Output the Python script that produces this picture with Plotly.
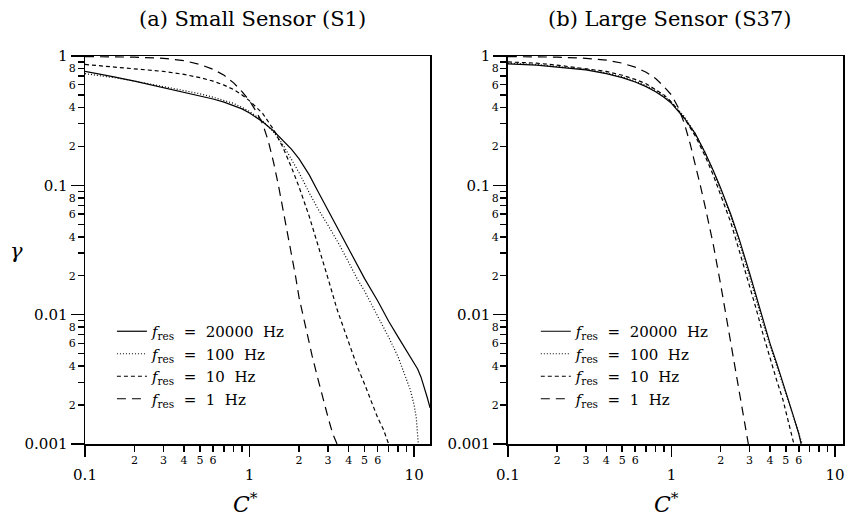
import math
import plotly.graph_objects as go

# ---------------- data ----------------
# Panel (a) Small Sensor (S1)
a_x_20000 = [0.1, 0.12, 0.15, 0.2, 0.25, 0.3, 0.4, 0.5, 0.6, 0.7, 0.8, 0.9, 1.0, 1.2, 1.4, 1.6, 1.8, 2.0, 2.3, 2.6, 3.0, 3.5, 4.0, 4.5, 5.0, 6.0, 7.0, 8.0, 9.0, 10.0, 10.5, 11.0, 11.5, 12.0, 12.5]
a_y_20000 = [0.76, 0.73, 0.69, 0.64, 0.6, 0.57, 0.525, 0.495, 0.465, 0.44, 0.415, 0.39, 0.362, 0.31, 0.263, 0.222, 0.19, 0.16, 0.121, 0.09, 0.064, 0.044, 0.032, 0.024, 0.019, 0.0128, 0.0089, 0.0067, 0.0052, 0.0042, 0.0038, 0.0033, 0.0028, 0.0023, 0.0019]
a_x_100 = [0.1, 0.12, 0.15, 0.2, 0.25, 0.3, 0.4, 0.5, 0.6, 0.7, 0.8, 0.9, 1.0, 1.2, 1.4, 1.6, 1.8, 2.0, 2.3, 2.6, 3.0, 3.5, 4.0, 4.5, 5.0, 6.0, 7.0, 8.0, 9.0, 9.5, 10.0, 10.3, 10.6]
a_y_100 = [0.73, 0.71, 0.68, 0.64, 0.61, 0.58, 0.54, 0.51, 0.48, 0.455, 0.43, 0.4, 0.372, 0.315, 0.258, 0.205, 0.16, 0.125, 0.088, 0.066, 0.049, 0.035, 0.0254, 0.019, 0.0152, 0.0098, 0.0067, 0.0047, 0.0032, 0.0026, 0.002, 0.0016, 0.001]
a_x_10 = [0.1, 0.2, 0.3, 0.4, 0.5, 0.6, 0.7, 0.8, 0.9, 1.0, 1.2, 1.4, 1.6, 1.8, 2.0, 2.3, 2.6, 3.0, 3.4, 4.0, 4.5, 5.0, 5.5, 6.0, 6.5, 7.0]
a_y_10 = [0.86, 0.8, 0.76, 0.72, 0.68, 0.64, 0.595, 0.55, 0.5, 0.45, 0.36, 0.27, 0.195, 0.137, 0.097, 0.058, 0.035, 0.019, 0.011, 0.006, 0.004, 0.0029, 0.0021, 0.0016, 0.0013, 0.001]
a_x_1 = [0.1, 0.2, 0.3, 0.4, 0.5, 0.6, 0.7, 0.8, 0.9, 1.0, 1.1, 1.2, 1.3, 1.4, 1.5, 1.6, 1.7, 1.8, 1.9, 2.0, 2.2, 2.4, 2.6, 2.8, 3.0, 3.2, 3.4]
a_y_1 = [0.99, 0.98, 0.96, 0.92, 0.86, 0.79, 0.71, 0.62, 0.53, 0.45, 0.37, 0.3, 0.22, 0.15, 0.099, 0.065, 0.043, 0.029, 0.02, 0.0135, 0.0077, 0.0048, 0.0032, 0.0022, 0.0016, 0.0012, 0.001]

# Panel (b) Large Sensor (S37)
b_x_20000 = [0.1, 0.15, 0.2, 0.3, 0.4, 0.5, 0.6, 0.7, 0.8, 0.9, 1.0, 1.2, 1.4, 1.6, 1.8, 2.0, 2.3, 2.6, 3.0, 3.3, 3.6, 4.0, 4.4, 4.8, 5.2, 5.6, 6.0, 6.2]
b_y_20000 = [0.87, 0.85, 0.82, 0.78, 0.73, 0.68, 0.63, 0.58, 0.53, 0.48, 0.43, 0.33, 0.25, 0.18, 0.13, 0.095, 0.06, 0.038, 0.021, 0.014, 0.0095, 0.006, 0.0042, 0.003, 0.0022, 0.0016, 0.0012, 0.001]
b_x_100 = [0.1, 0.15, 0.2, 0.3, 0.4, 0.5, 0.6, 0.7, 0.8, 0.9, 1.0, 1.2, 1.4, 1.6, 1.8, 2.0, 2.3, 2.6, 3.0, 3.3, 3.6, 4.0, 4.4, 4.8, 5.2, 5.6, 6.0, 6.3]
b_y_100 = [0.88, 0.86, 0.83, 0.79, 0.74, 0.69, 0.64, 0.59, 0.54, 0.49, 0.44, 0.34, 0.25, 0.18, 0.13, 0.093, 0.058, 0.036, 0.02, 0.013, 0.0088, 0.0057, 0.004, 0.0029, 0.0021, 0.0016, 0.0012, 0.001]
b_x_10 = [0.1, 0.15, 0.2, 0.3, 0.4, 0.5, 0.6, 0.7, 0.8, 0.9, 1.0, 1.2, 1.4, 1.6, 1.8, 2.0, 2.3, 2.6, 3.0, 3.3, 3.6, 4.0, 4.4, 4.8, 5.2, 5.6]
b_y_10 = [0.9, 0.88, 0.85, 0.8, 0.76, 0.71, 0.66, 0.61, 0.55, 0.5, 0.44, 0.33, 0.24, 0.17, 0.12, 0.085, 0.052, 0.031, 0.017, 0.011, 0.0073, 0.0046, 0.0031, 0.0022, 0.0015, 0.001]
b_x_1 = [0.1, 0.15, 0.2, 0.3, 0.4, 0.5, 0.6, 0.7, 0.8, 0.9, 1.0, 1.1, 1.2, 1.3, 1.4, 1.5, 1.6, 1.8, 2.0, 2.2, 2.4, 2.6, 2.8, 2.95]
b_y_1 = [0.99, 0.985, 0.98, 0.96, 0.93, 0.88, 0.82, 0.75, 0.67, 0.58, 0.5, 0.4, 0.3, 0.21, 0.145, 0.1, 0.07, 0.035, 0.017, 0.0085, 0.0045, 0.0025, 0.0015, 0.001]

series_names = ["20000", "100", "10", "1"]
panel_titles = ["(a) Small Sensor (S1)", "(b) Large Sensor (S37)"]
x_title = "<i>C</i><sup>*</sup>"
y_title = "<i>γ</i>"

x_decades = [0.1, 1, 10]
x_decade_text = ["0.1", "1", "10"]
x_minor = [m * d for d in [0.1, 1] for m in range(2, 10)]
x_lab_vals = [m * d for d in [0.1, 1] for m in range(2, 7)]
x_lab_text = [str(m) for d in [0.1, 1] for m in range(2, 7)]
y_decades = [0.001, 0.01, 0.1, 1]
y_decade_text = ["0.001", "0.01", "0.1", "1"]
y_minor = [m * d for d in [0.001, 0.01, 0.1] for m in range(2, 10)]
y_lab_vals = [m * d for d in [0.001, 0.01, 0.1] for m in (2, 4, 6, 8)]
y_lab_text = [str(m) for d in [0.001, 0.01, 0.1] for m in (2, 4, 6, 8)]

# ---------------- styles ----------------
FONT = "DejaVu Serif"
dashes = ["solid", "1px,2px", "4px,3px", "9px,6px"]
SP = "\u00a0"

fig = go.Figure()

XMAX_A, XMAX_B = 12.5, 11.18
panels = [
    dict(xs=[a_x_20000, a_x_100, a_x_10, a_x_1], ys=[a_y_20000, a_y_100, a_y_10, a_y_1],
         xa="x", ya="y", xo="x3", yo="y3", legend="legend"),
    dict(xs=[b_x_20000, b_x_100, b_x_10, b_x_1], ys=[b_y_20000, b_y_100, b_y_10, b_y_1],
         xa="x2", ya="y2", xo="x4", yo="y4", legend="legend2"),
]

for p in panels:
    for xs, ys, nm, ds in zip(p["xs"], p["ys"], series_names, dashes):
        fig.add_trace(go.Scatter(
            x=xs, y=ys, mode="lines", xaxis=p["xa"], yaxis=p["ya"],
            name="<i>f</i><sub>res</sub>" + SP * 2 + "=" + SP * 2 + nm + SP * 2 + "Hz",
            line=dict(color="black", width=1.2, dash=ds),
            legend=p["legend"], hoverinfo="skip"))
    # empty trace so the label-only overlay axes get drawn
    fig.add_trace(go.Scatter(x=[], y=[], xaxis=p["xo"], yaxis=p["yo"], showlegend=False))

L, R, T, B = 85, 4, 56, 78
W, H = 849, 522
PW = W - L - R
PH = H - T - B

def px_x(px):
    return (px - L) / PW

def px_y(py):
    return (H - B - py) / PH

doms = [[0, px_x(431)], [px_x(509), 1]]

def xmain(dom, anchor, xmax):
    return dict(type="log", domain=dom, anchor=anchor, range=[-1, math.log10(xmax)],
                tickmode="array", tickvals=x_decades, ticktext=x_decade_text,
                ticks="outside", ticklen=11, tickwidth=1.5, tickcolor="black",
                ticklabelstandoff=5, ticklabeloverflow="allow",
                tickfont=dict(family=FONT, size=15, color="black"),
                minor=dict(tickmode="array", tickvals=x_minor, ticks="outside",
                           ticklen=6, tickwidth=1.5, tickcolor="black"),
                showline=True, linecolor="black", linewidth=1.5, mirror=True,
                showgrid=False, zeroline=False)

def xover(over, anchor, xmax):
    return dict(type="log", overlaying=over, anchor=anchor, side="bottom",
                range=[-1, math.log10(xmax)],
                tickmode="array", tickvals=x_lab_vals, ticktext=x_lab_text,
                ticks="outside", ticklen=6, tickwidth=1.5, tickcolor="black",
                tickfont=dict(family=FONT, size=11, color="black"),
                showline=False, showgrid=False, zeroline=False)

def ymain(anchor):
    return dict(type="log", domain=[0, 1], anchor=anchor, range=[-3, 0],
                tickmode="array", tickvals=y_decades, ticktext=y_decade_text,
                ticks="outside", ticklen=13, tickwidth=1.5, tickcolor="black",
                tickfont=dict(family=FONT, size=15, color="black"),
                minor=dict(tickmode="array", tickvals=y_minor, ticks="outside",
                           ticklen=6, tickwidth=1.5, tickcolor="black"),
                showline=True, linecolor="black", linewidth=1.5, mirror=True,
                showgrid=False, zeroline=False)

def yover(over, anchor):
    return dict(type="log", overlaying=over, anchor=anchor, side="left", range=[-3, 0],
                tickmode="array", tickvals=y_lab_vals, ticktext=y_lab_text,
                ticks="outside", ticklen=6, tickwidth=1.5, tickcolor="black",
                tickfont=dict(family=FONT, size=11, color="black"),
                showline=False, showgrid=False, zeroline=False)

legend_common = dict(bgcolor="rgba(0,0,0,0)", borderwidth=0,
                     font=dict(family=FONT, size=15, color="black"),
                     xanchor="left", yanchor="top", tracegroupgap=0, itemwidth=30)

fig.update_layout(
    width=W, height=H,
    margin=dict(l=L, r=R, t=T, b=B),
    paper_bgcolor="white", plot_bgcolor="white",
    font=dict(family=FONT, color="black"),
    hovermode=False,
    xaxis=xmain(doms[0], "y", XMAX_A),
    yaxis=ymain("x"),
    xaxis2=xmain(doms[1], "y2", XMAX_B),
    yaxis2=ymain("x2"),
    xaxis3=xover("x", "y", XMAX_A),
    yaxis3=yover("y", "x"),
    xaxis4=xover("x2", "y2", XMAX_B),
    yaxis4=yover("y2", "x2"),
    legend=dict(x=px_x(112), y=px_y(315), **legend_common),
    legend2=dict(x=px_x(537), y=px_y(315), **legend_common),
    showlegend=True,
)

def ann(text, cx, cy, size):
    return dict(text=text, x=px_x(cx), y=px_y(cy), xref="paper", yref="paper",
                xanchor="center", yanchor="middle", showarrow=False,
                font=dict(family=FONT, size=size, color="black"))

fig.update_layout(annotations=[
    ann(panel_titles[0], 253, 19, 21),
    ann(panel_titles[1], 672, 19, 21),
    ann(x_title, 246, 503, 22),
    ann(x_title, 668, 503, 22),
    ann(y_title, 16, 251, 21),
])

# static plot (no mode bar / hover), and no default body margin so the
# 849x522 figure fills the window exactly
fig.write_html("out.html",
               config={"staticPlot": True, "displayModeBar": False},
               post_script="document.body.style.margin='0';document.body.style.padding='0';")
